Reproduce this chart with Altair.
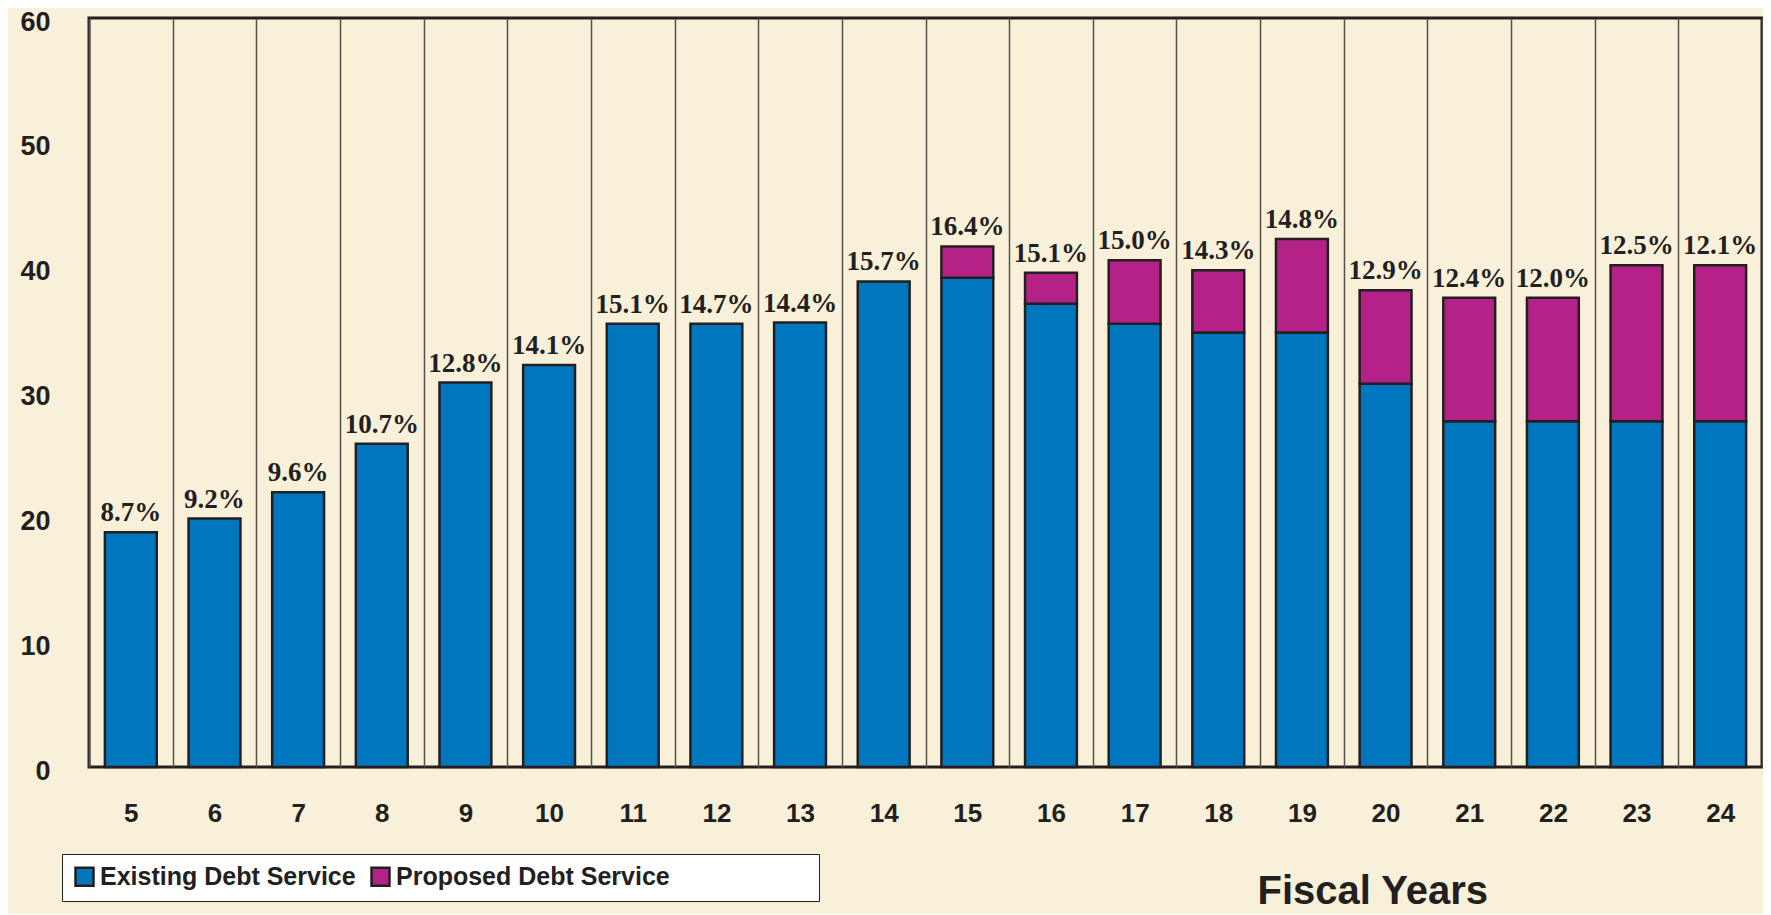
import altair as alt
import pandas as pd

years = [str(y) for y in range(5, 25)]
existing = [18.8, 19.9, 22.0, 25.9, 30.8, 32.2, 35.5, 35.5, 35.6, 38.9,
            39.2, 37.1, 35.5, 34.8, 34.8, 30.7, 27.7, 27.7, 27.7, 27.7]
proposed = [0, 0, 0, 0, 0, 0, 0, 0, 0, 0,
            2.5, 2.5, 5.1, 5.0, 7.5, 7.5, 9.9, 9.9, 12.5, 12.5]
pct_labels = ["8.7%", "9.2%", "9.6%", "10.7%", "12.8%", "14.1%", "15.1%", "14.7%",
              "14.4%", "15.7%", "16.4%", "15.1%", "15.0%", "14.3%", "14.8%", "12.9%",
              "12.4%", "12.0%", "12.5%", "12.1%"]
series_names = ["Existing Debt Service", "Proposed Debt Service"]
series_colors = ["#0076BE", "#B52287"]

rows = []
for y, e, p in zip(years, existing, proposed):
    rows.append({"year": y, "series": series_names[0], "value": e, "ord": 0})
    if p > 0:
        rows.append({"year": y, "series": series_names[1], "value": p, "ord": 1})
bars_df = pd.DataFrame(rows)

lab_df = pd.DataFrame({
    "year": years,
    "total": [e + p for e, p in zip(existing, proposed)],
    "label": pct_labels,
})

INK = "#231F20"
SANS = "Liberation Sans, Arial, Helvetica, sans-serif"
SERIF = "Liberation Serif, Times New Roman, serif"

xscale = alt.Scale(domain=years, paddingInner=0, paddingOuter=0)
yscale = alt.Scale(domain=[0, 60], nice=False)

bars = alt.Chart(bars_df).mark_bar(
    width=alt.RelativeBandSize(0.62), stroke=INK, strokeWidth=2.5
).encode(
    x=alt.X("year:N", scale=xscale, sort=years,
            axis=alt.Axis(
                title="Fiscal Years", labelAngle=0, grid=True, tickBand="extent",
                gridColor="#55504A", gridWidth=1.5, domain=False, ticks=False,
                labelFont=SANS, labelFontSize=26, labelFontWeight="bold",
                labelColor=INK, labelBaseline="top", labelPadding=33,
                titleFont=SANS, titleFontSize=40, titleFontWeight="bold",
                titleColor=INK, titleAlign="left", titleBaseline="alphabetic",
                titleX=1168, titleY=136, titleAnchor="start")),
    y=alt.Y("value:Q", stack="zero", scale=yscale,
            axis=alt.Axis(title=None, values=[0, 10, 20, 30, 40, 50, 60], grid=False,
                          domain=False, ticks=False, labelFont=SANS, labelFontSize=27,
                          labelFontWeight="bold", labelColor=INK, labelPadding=39,
                          labelBaseline="middle", labelOffset=4)),
    color=alt.Color("series:N",
                    scale=alt.Scale(domain=series_names, range=series_colors),
                    legend=alt.Legend(
                        orient="none", legendX=-27, legendY=836, direction="horizontal",
                        title="\u2003", titleOrient="right",
                        titleFontSize=24, titlePadding=139,
                        fillColor="white", strokeColor=INK, padding=10,
                        symbolType="square", symbolSize=324, symbolStrokeColor=INK,
                        symbolStrokeWidth=2.5, symbolOpacity=1,
                        labelFont=SANS, labelFontSize=25, labelFontWeight="bold",
                        labelColor=INK, labelOffset=3, columnPadding=10,
                        labelLimit=600)),
    order=alt.Order("ord:Q"),
)

labels = alt.Chart(lab_df).mark_text(
    font=SERIF, fontSize=27, fontWeight="bold", color=INK,
    baseline="alphabetic", dy=-11
).encode(
    x=alt.X("year:N", scale=xscale, sort=years),
    y=alt.Y("total:Q", scale=yscale),
    text="label:N",
)

chart = alt.layer(bars, labels).properties(
    width=1673, height=749,
    padding={"left": 81, "top": 10, "right": 1, "bottom": 147},
    autosize=alt.AutoSizeParams(type="none"),
    background="#F8F0D8",
).configure_view(
    stroke=INK, strokeWidth=3, fill="#F8F0D8"
)

chart.save("out.html", embed_options={"renderer": "svg", "actions": False})
